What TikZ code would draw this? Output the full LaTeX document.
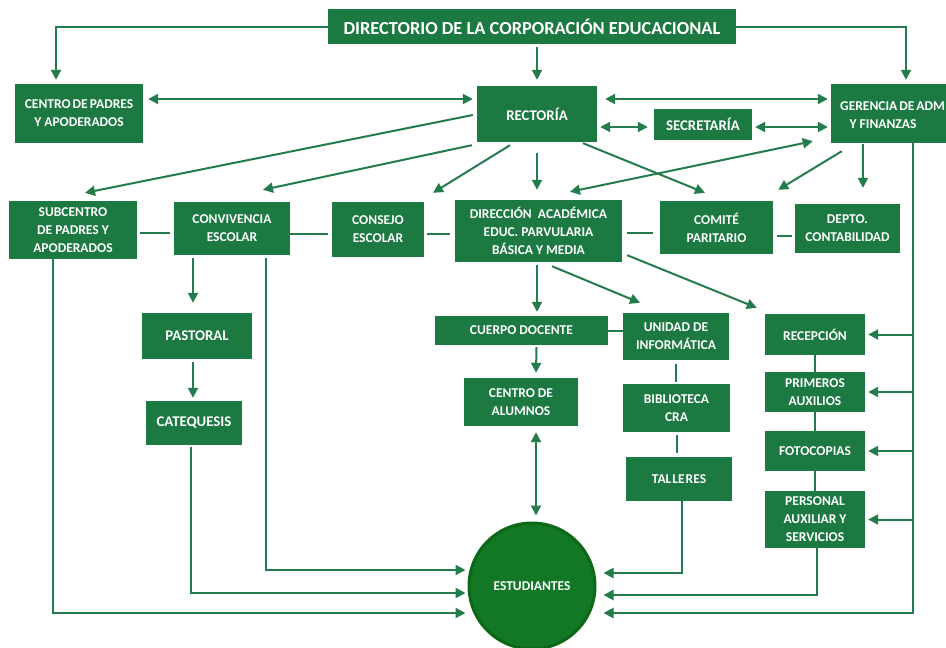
\documentclass[tikz,border=0pt]{standalone}
\usepackage{fontspec}
\setmainfont{Carlito}
\usetikzlibrary{arrows.meta,calc}
\definecolor{G}{RGB}{28,121,66}
\definecolor{GL}{RGB}{36,124,76}
\definecolor{GC}{RGB}{18,120,38}
\definecolor{GB}{RGB}{12,104,22}
\begin{document}
\begin{tikzpicture}[x=1pt,y=-1pt,
  box/.style={fill=G, draw=none, text=white, font=\bfseries\fontsize{13.5}{18}\selectfont, align=center, inner sep=0pt},
  bigtxt/.style={font=\bfseries\fontsize{14.8}{18}\selectfont},
  lbl/.style={text=white, font=\bfseries\fontsize{13.5}{18}\selectfont, inner sep=0pt},
  arr/.style={draw=GL, line width=2pt, -{Triangle[length=10pt,width=10pt]}},
  darr/.style={draw=GL, line width=2pt, {Triangle[length=10pt,width=10pt]}-{Triangle[length=10pt,width=10pt]}},
  ln/.style={draw=GL, line width=2pt}]
\fill[white] (0,0) rectangle (946,648);
\useasboundingbox (0,0) rectangle (946,648);
\clip (0,0) rectangle (946,648);

% nodes
\node[box,minimum width=408pt,minimum height=35pt,font=\bfseries\fontsize{18.4}{20}\selectfont] (dir) at (532,26.5) {DIRECTORIO DE LA CORPORACIÓN EDUCACIONAL};
\node[box,minimum width=128pt,minimum height=59pt] (cpa) at (79,113.5) {CENTRO\hspace{2pt}DE\hspace{2pt}PADRES\\Y APODERADOS};
\node[box,bigtxt,minimum width=120pt,minimum height=56pt] (rec) at (537,114) {RECTORÍA};
\node[box,bigtxt,minimum width=98pt,minimum height=31pt] (sec) at (703,124.5) {SECRETARÍA};
\node[box,minimum width=129pt,minimum height=59pt] (ger) at (895.5,113.5) {};
\node[lbl,anchor=west] (g1) at (840,106) {GERENCIA\hspace{2pt}DE\hspace{2pt}ADM};
\node[lbl] (g2) at (883,124) {Y FINANZAS};
\node[box,minimum width=128pt,minimum height=58pt] (sub) at (73,230) {SUBCENTRO\\DE PADRES Y\\APODERADOS};
\node[box,minimum width=116pt,minimum height=53pt] (conv) at (232,228.5) {CONVIVENCIA\\ESCOLAR};
\node[box,minimum width=92pt,minimum height=55pt] (cons) at (378,229.5) {CONSEJO\\ESCOLAR};
\node[box,minimum width=167pt,minimum height=62pt] (dira) at (538.5,231) {DIRECCIÓN\ \ ACADÉMICA\\EDUC. PARVULARIA\\BÁSICA Y MEDIA};
\node[box,minimum width=113pt,minimum height=53pt] (com) at (716.5,227.5) {COMITÉ\\PARITARIO};
\node[box,minimum width=105pt,minimum height=49pt] (dep) at (847.5,228.5) {DEPTO.\\CONTABILIDAD};
\node[box,bigtxt,minimum width=110pt,minimum height=46pt] (pas) at (197,336) {PASTORAL};
\node[box,bigtxt,minimum width=96pt,minimum height=44pt] (cat) at (194,423) {CATEQUESIS};
\node[box,minimum width=173pt,minimum height=29pt] (cue) at (521.5,330.5) {CUERPO DOCENTE};
\node[box,minimum width=106pt,minimum height=47pt] (uni) at (676,336.5) {UNIDAD DE\\INFORMÁTICA};
\node[box,minimum width=114pt,minimum height=48pt] (cal) at (521,402) {CENTRO DE\\ALUMNOS};
\node[box,minimum width=107pt,minimum height=48pt] (bib) at (676.5,408) {BIBLIOTECA\\CRA};
\node[box,minimum width=106pt,minimum height=44pt] (tal) at (679,479) {TAL\hspace{1pt}LE\hspace{1pt}RES};
\node[box,minimum width=100pt,minimum height=41pt] (rcp) at (815,334.5) {RECEPCIÓN};
\node[box,minimum width=100pt,minimum height=40pt] (pri) at (815,392) {PRIMEROS\\AUXILIOS};
\node[box,minimum width=100pt,minimum height=40pt] (fot) at (815,451) {FOTOCOPIAS};
\node[box,minimum width=100pt,minimum height=57pt] (per) at (815,519.5) {PERSONAL\\AUXILIAR Y\\SERVICIOS};
\node[circle, fill=GC, draw=GB, line width=3pt, minimum size=126pt, inner sep=0pt, text=white, font=\bfseries\fontsize{13.5}{18}\selectfont] (est) at (532,586) {ESTUDIANTES};

% top connectors
\draw[arr] (dir.west) -| ($(cpa.north)+(-23,-4)$);
\draw[arr] (dir.east) -| ($(ger.north)+(10.5,-4)$);
\draw[arr, shorten <=3pt, shorten >=6pt] (rec.north|-dir.south) -- (rec.north);
\draw[darr] ($(cpa.east)+(5,-14.5)$) -- ($(rec.west)+(-4,-15)$);
\draw[darr] ($(rec.east)+(8,-15)$) -- ($(ger.west)+(-3,-14.5)$);
\draw[darr] ($(rec.east)+(3,13)$) -- ($(sec.west)+(-6,2.5)$);
\draw[darr] ($(sec.east)+(3,2.5)$) -- ($(ger.west)+(-3,13.5)$);
\draw[arr] ($(rec.west)+(-4,1)$) -- ($(sub.north)+(12,-8)$);
\draw[arr] ($(rec.south west)+(-5,3)$) -- ($(conv.north)+(31,-12)$);
\draw[arr] ($(rec.south)+(-27,3)$) -- ($(cons.north)+(55,-9)$);
\draw[arr] ($(rec.south)+(0,11)$) -- ($(dira.north)+(-1.5,-10)$);
\draw[arr] ($(rec.south)+(46,1)$) -- ($(com.north)+(-11.5,-8)$);
\draw[darr] ($(ger.south west)+(-18,-2)$) -- ($(dira.north)+(31.5,-8)$);
\draw[arr] ($(ger.south west)+(11,8)$) -- ($(com.north east)+(5,-11)$);
\draw[arr] ($(ger.south west)+(32,1)$) -- ($(dep.north)+(15.5,-16)$);

% right column feed
\coordinate (gl) at ($(ger.south)+(17.5,0)$);
\draw[arr] (gl) |- ($(est.east)+(7,27)$);
\foreach \n in {rcp,pri,fot,per} \draw[arr, shorten >=3pt] (gl |- \n.east) -- (\n.east);

% row links
\draw[ln] ($(sub.east)+(3,3)$) -- ($(conv.west)+(-4,4.5)$);
\draw[ln] ($(conv.east)+(0,5.5)$) -- ($(cons.west)+(-4,4.5)$);
\draw[ln] ($(cons.east)+(3,4.5)$) -- ($(dira.west)+(-5,3)$);
\draw[ln] ($(dira.east)+(5,2)$) -- ($(com.west)+(-7,5.5)$);
\draw[ln] ($(com.east)+(4,8.5)$) -- ($(dep.west)+(-3,7.5)$);

% left lower
\coordinate (c1) at ($(conv.south)+(-39,3)$);
\draw[arr] (c1) -- ($(pas.north)+(-4,-10)$);
\draw[arr] ($(pas.south)+(-4,3)$) -- ($(cat.north)+(-1,-3)$);
\draw[arr] ($(cat.south)+(-3,2)$) |- ($(est.west)+(-2,7)$);
\draw[arr] ($(conv.south)+(34,3)$) |- ($(est.west)+(-2,-16)$);
\draw[arr] ($(sub.south)+(-20,0)$) |- ($(est.west)+(-2,27)$);

% middle lower
\draw[arr] ($(dira.south)+(-1.5,3)$) -- ($(cue.north)+(15.5,-4)$);
\draw[arr] ($(dira.south)+(13.5,4)$) -- ($(uni.north)+(-36,-10)$);
\draw[arr] ($(dira.south east)+(5,-7)$) -- ($(rcp.north west)+(-8,-6)$);
\draw[ln] (cue.east) -- (cue.east -| uni.west);
\draw[arr] ($(cue.south)+(15,2)$) -- ($(cal.north)+(15,-5)$);
\draw[darr] ($(cal.south)+(15,6)$) -- ($(est.north)+(4,-6)$);
\draw[ln, shorten <=4pt, shorten >=2pt] (uni.south) -- (uni.south|-bib.north);
\draw[ln, shorten <=3pt, shorten >=4pt] (bib.south) -- (bib.south|-tal.north);
\draw[arr] ($(tal.south)+(3,0)$) |- ($(est.east)+(7,-13)$);
\draw[arr] ($(per.south)+(2,0)$) |- ($(est.east)+(7,9)$);
\draw[ln] (rcp.south) -- (pri.north);
\draw[ln] (pri.south) -- (fot.north);
\draw[ln] (fot.south) -- (per.north);
\end{tikzpicture}
\end{document}
